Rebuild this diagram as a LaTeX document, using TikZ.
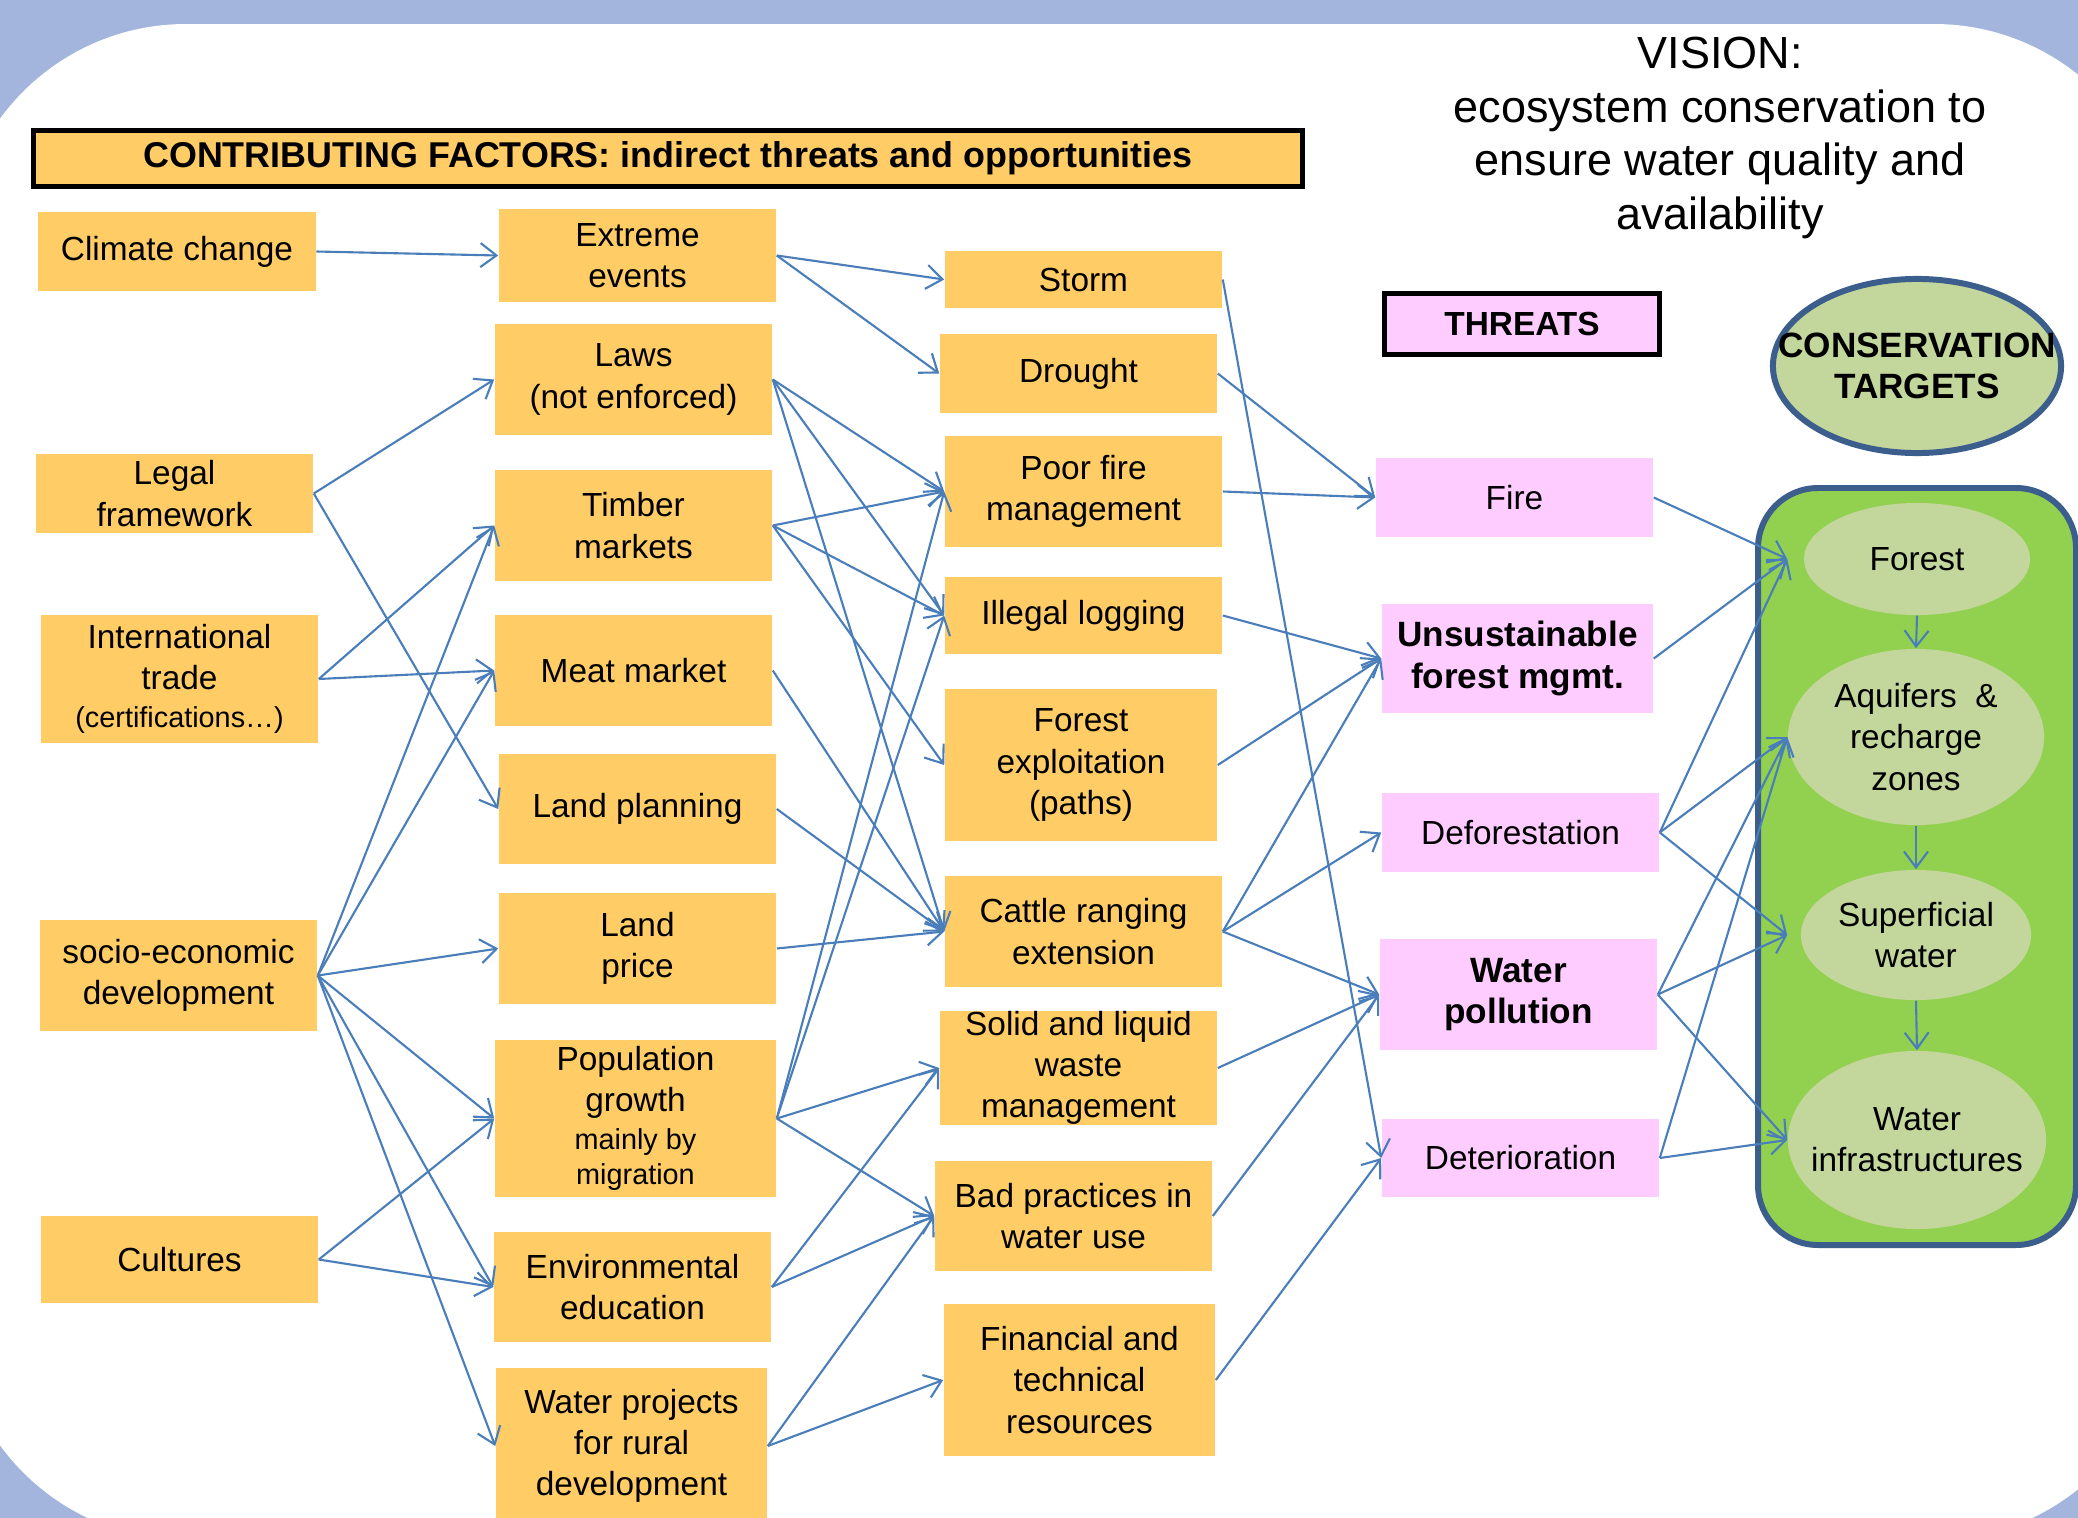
\documentclass[tikz,border=0pt]{standalone}
\usepackage{fontspec}
\setmainfont{Liberation Sans}
\usetikzlibrary{arrows.meta}
\usetikzlibrary{shapes.geometric}

\definecolor{framebg}{HTML}{A3B5DC}
\definecolor{cforange}{HTML}{FFCC66}
\definecolor{thpink}{HTML}{FFCCFF}
\definecolor{tgsage}{HTML}{C3D69B}
\definecolor{tggreen}{HTML}{92D050}
\definecolor{tgline}{HTML}{3B5E8C}
\definecolor{linkblue}{HTML}{4A7EBB}

\newcommand{\boxfont}{\fontsize{9.5}{11.7}\selectfont}
\newcommand{\boldboxfont}{\bfseries\fontsize{10}{11.7}\selectfont}
\newcommand{\smallboxfont}{\fontsize{8.2}{10.2}\selectfont}

\tikzset{
  cfbox/.style={fill=cforange, inner sep=0pt, align=center, minimum width=2.77cm, font=\boxfont},
  thbox/.style={fill=thpink, inner sep=0pt, align=center, minimum width=2.77cm, font=\boxfont},
  tgell/.style={ellipse, fill=tgsage, inner ysep=0pt, inner xsep=-0.2cm, align=center, font=\boxfont},
  link/.style={draw=linkblue, line width=0.6pt, -{Straight Barb[length=1.6mm,width=2.4mm]}},
}

\begin{document}
\begin{tikzpicture}[x=0.01cm,y=-0.01cm]
\useasboundingbox (0,0) rectangle (2078,1518);
\clip (0,0) rectangle (2078,1518);
\fill[framebg] (0,0) rectangle (2078,1518);
\fill[white,rounded corners=2.3cm] (-44,24) rectangle (2164,1540);

\node[cfbox, draw=black, line width=1.4pt, minimum width=12.69cm, minimum height=0.56cm, font=\bfseries\fontsize{10.2}{12}\selectfont] (hdr) at (668,158.5) {CONTRIBUTING FACTORS: indirect threats and opportunities};
\node[align=center, font=\fontsize{12.8}{15.3}\selectfont] (vis) at (1720,138) {VISION:\\ecosystem conservation to\\ensure water quality and\\availability};

\node[cfbox, minimum height=0.79cm] (cc) at (177,251.5) {Climate change};
\node[cfbox, minimum height=0.79cm] (lf) at (174.5,493.5) {Legal\\framework};
\node[cfbox, minimum height=1.28cm] (it) at (179.5,679) {International\\trade\\[-1pt]{\smallboxfont (certifications…)}};
\node[cfbox, minimum height=1.11cm] (se) at (178.5,975.5) {socio-economic\\development};
\node[cfbox, minimum height=0.87cm] (cu) at (179.5,1259.5) {Cultures};

\node[cfbox, minimum height=0.93cm] (ee) at (637.5,255.5) {Extreme\\events};
\node[cfbox, minimum height=1.11cm] (la) at (633.5,379.5) {Laws\\(not enforced)};
\node[cfbox, minimum height=1.11cm] (tm) at (633.5,525.5) {Timber\\markets};
\node[cfbox, minimum height=1.11cm] (mm) at (633.5,670.5) {Meat market};
\node[cfbox, minimum height=1.10cm] (lp) at (637.5,809) {Land planning};
\node[cfbox, minimum height=1.11cm] (lpr) at (637.5,948.5) {Land\\price};
\node[cfbox, minimum width=2.81cm, minimum height=1.57cm] (pg) at (635.5,1118.5) {Population\\growth\\[-1pt]{\smallboxfont mainly by}\\[-1.6pt]{\smallboxfont migration}};
\node[cfbox, minimum height=1.10cm] (eed) at (632.5,1287) {Environmental\\education};
\node[cfbox, minimum width=2.71cm, minimum height=1.56cm] (wp) at (631.5,1446) {Water projects\\for rural\\development};

\node[cfbox, minimum height=0.57cm] (st) at (1083.5,279.5) {Storm};
\node[cfbox, minimum height=0.79cm] (dr) at (1078.5,373.5) {Drought};
\node[cfbox, minimum height=1.11cm] (pf) at (1083.5,491.5) {Poor fire\\management};
\node[cfbox, minimum height=0.77cm] (il) at (1083.5,615.5) {Illegal logging};
\node[cfbox, minimum width=2.72cm, minimum height=1.52cm] (fe) at (1081,765) {Forest\\exploitation\\(paths)};
\node[cfbox, minimum height=1.11cm] (cr) at (1083.5,931.5) {Cattle ranging\\extension};
\node[cfbox, minimum height=1.10cm] (sw) at (1078.5,1068) {Solid and liquid\\waste\\management};
\node[cfbox, minimum height=1.10cm] (bp) at (1073.5,1216) {Bad practices in\\water use};
\node[cfbox, minimum width=2.71cm, minimum height=1.52cm] (ft) at (1079.5,1380) {Financial and\\technical\\resources};

\node[thbox, draw=black, line width=1.4pt, minimum width=2.75cm, minimum height=0.61cm, font=\bfseries\boxfont] (thr) at (1522,324) {THREATS};
\node[thbox, minimum height=0.79cm] (fi) at (1514.5,497.5) {Fire};
\node[thbox, minimum width=2.71cm, minimum height=1.09cm, font=\boldboxfont] (uf) at (1517.5,658.5) {Unsustainable\\forest mgmt.};
\node[thbox, minimum height=0.79cm] (df) at (1520.5,832.5) {Deforestation};
\node[thbox, minimum height=1.11cm, font=\boldboxfont] (wpo) at (1518.5,994.5) {Water\\pollution};
\node[thbox, minimum height=0.78cm] (de) at (1520.5,1158) {Deterioration};

\node[tgell, draw=tgline, line width=1.7pt, inner xsep=-0.38cm, minimum width=2.88cm, minimum height=1.74cm, font=\boldboxfont] (ct) at (1917,366) {CONSERVATION\\TARGETS};
\draw[tgline, fill=tggreen, line width=1.7pt, rounded corners=0.6cm] (1758,488) rectangle (2076,1245);
\node[tgell, minimum width=2.26cm, minimum height=1.12cm] (fo) at (1917,559) {Forest};
\node[tgell, minimum width=2.56cm, minimum height=1.76cm] (aq) at (1916,737) {Aquifers~~\&\\recharge\\zones};
\node[tgell, minimum width=2.30cm, minimum height=1.30cm] (sf) at (1916,935) {Superficial\\water};
\node[tgell, minimum width=2.58cm, minimum height=1.78cm] (wi) at (1917,1140) {Water\\infrastructures};

\draw[link] (cc.east) -- (ee.west);
\draw[link] (ee.east) -- (st.west);
\draw[link] (ee.east) -- (dr.west);
\draw[link] (lf.east) -- (la.west);
\draw[link] (lf.east) -- (lp.west);
\draw[link] (it.east) -- (tm.west);
\draw[link] (it.east) -- (mm.west);
\draw[link] (se.east) -- (tm.west);
\draw[link] (se.east) -- (mm.west);
\draw[link] (se.east) -- (lpr.west);
\draw[link] (se.east) -- (pg.west);
\draw[link] (se.east) -- (eed.west);
\draw[link] (se.east) -- (wp.west);
\draw[link] (cu.east) -- (pg.west);
\draw[link] (cu.east) -- (eed.west);

\draw[link] (la.east) -- (pf.west);
\draw[link] (la.east) -- (il.west);
\draw[link] (la.east) -- (cr.west);
\draw[link] (tm.east) -- (pf.west);
\draw[link] (tm.east) -- (il.west);
\draw[link] (tm.east) -- (fe.west);
\draw[link] (mm.east) -- (cr.west);
\draw[link] (lp.east) -- (cr.west);
\draw[link] (lpr.east) -- (cr.west);
\draw[link] (pg.east) -- (pf.west);
\draw[link] (pg.east) -- (il.west);
\draw[link] (pg.east) -- (sw.west);
\draw[link] (pg.east) -- (bp.west);
\draw[link] (eed.east) -- (sw.west);
\draw[link] (eed.east) -- (bp.west);
\draw[link] (wp.east) -- (bp.west);
\draw[link] (wp.east) -- (ft.west);

\draw[link] (st.east) -- (de.west);
\draw[link] (dr.east) -- (fi.west);
\draw[link] (pf.east) -- (fi.west);
\draw[link] (il.east) -- (uf.west);
\draw[link] (fe.east) -- (uf.west);
\draw[link] (cr.east) -- (uf.west);
\draw[link] (cr.east) -- (df.west);
\draw[link] (cr.east) -- (wpo.west);
\draw[link] (sw.east) -- (wpo.west);
\draw[link] (bp.east) -- (wpo.west);
\draw[link] (ft.east) -- (de.west);

\draw[link] (fi.east) -- ([xshift=-0.16cm]fo.west);
\draw[link] (uf.east) -- ([xshift=-0.16cm]fo.west);
\draw[link] (df.east) -- ([xshift=-0.16cm]fo.west);
\draw[link] (df.east) -- (aq.west);
\draw[link] (df.east) -- ([xshift=-0.13cm]sf.west);
\draw[link] (wpo.east) -- (aq.west);
\draw[link] (wpo.east) -- ([xshift=-0.13cm]sf.west);
\draw[link] (wpo.east) -- (wi.west);
\draw[link] (de.east) -- (aq.west);
\draw[link] (de.east) -- (wi.west);

\draw[link] (fo.south) -- (aq.north);
\draw[link] (aq.south) -- (sf.north);
\draw[link] (sf.south) -- (wi.north);
\end{tikzpicture}
\end{document}
